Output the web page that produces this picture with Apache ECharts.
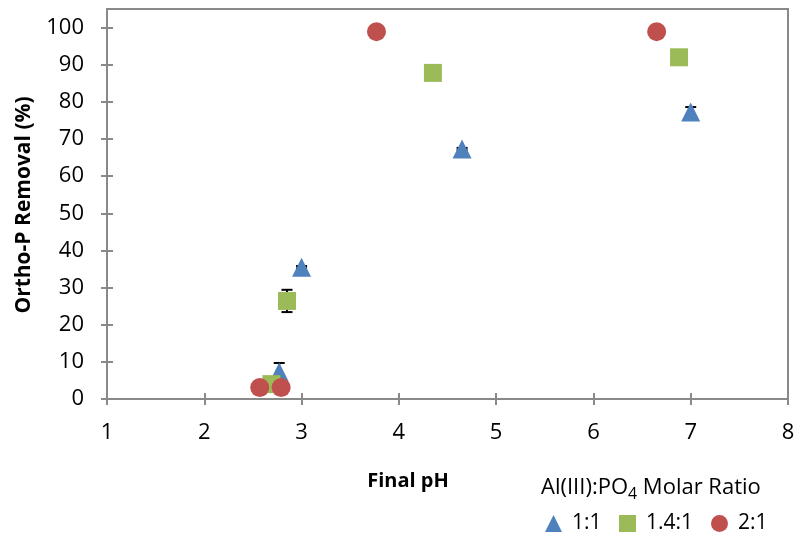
<!DOCTYPE html>
<html>
<head>
<meta charset="utf-8">
<script src="https://cdn.jsdelivr.net/npm/echarts@6/dist/echarts.min.js"></script>
<style>html,body{margin:0;padding:0;background:#fff}#c{width:798px;height:535px}</style>
</head>
<body>
<div id="c"></div>
<script>
// ---- data ----
var seriesNames = ['1:1', '1.4:1', '2:1'];
var ph_1_1 = [2.77, 3.0, 4.65, 7.0];
var rem_1_1 = [7.3, 35.5, 67.3, 77.3];
var err_1_1 = [2.4, 0.3, 0.3, 1.3];
var ph_14_1 = [2.69, 2.85, 4.35, 6.88];
var rem_14_1 = [4.0, 26.4, 87.8, 92.0];
var err_14_1 = [0, 3.0, 0, 0];
var ph_2_1 = [2.57, 2.79, 3.77, 6.65];
var rem_2_1 = [3.1, 3.1, 98.9, 98.9];
var err_2_1 = [0, 0, 0, 0];
var yTicks = [0, 10, 20, 30, 40, 50, 60, 70, 80, 90, 100];
var xTicks = [1, 2, 3, 4, 5, 6, 7, 8];

var FONT = '"Open Sans", "Noto Sans", sans-serif';
var AXIS_COLOR = '#898989';
var colors = ['#4F81BD', '#9BBB59', '#C0504D'];

function pts(xs, ys) { return xs.map(function (x, i) { return [x, ys[i]]; }); }
function errPts(xs, ys, es) {
  var out = [];
  xs.forEach(function (x, i) { if (es[i] > 0) out.push([x, ys[i], es[i]]); });
  return out;
}
var errData = errPts(ph_1_1, rem_1_1, err_1_1)
  .concat(errPts(ph_14_1, rem_14_1, err_14_1))
  .concat(errPts(ph_2_1, rem_2_1, err_2_1));

var chart = echarts.init(document.getElementById('c'), null, { renderer: 'canvas' });

function axisBase(isX) {
  return {
    type: 'value',
    min: isX ? 1 : 0,
    max: isX ? 8 : 105,
    interval: isX ? 1 : 10,
    splitLine: { show: false },
    axisLine: { show: true, lineStyle: { color: AXIS_COLOR, width: 2 } },
  };
}

var xMain = Object.assign(axisBase(true), {
  position: 'bottom',
  axisTick: { show: true, inside: false, length: 6, lineStyle: { color: AXIS_COLOR, width: 2 }, customValues: xTicks },
  axisLabel: { show: true, margin: 23, color: '#000', fontFamily: FONT, fontSize: 22, customValues: xTicks }
});
var xInner = Object.assign(axisBase(true), {
  position: 'bottom',
  axisLine: { show: false },
  axisTick: { show: true, inside: true, length: 6, lineStyle: { color: AXIS_COLOR, width: 2 }, customValues: xTicks },
  axisLabel: { show: false }
});
var yMain = Object.assign(axisBase(false), {
  position: 'left',
  axisTick: { show: true, inside: false, length: 6, lineStyle: { color: AXIS_COLOR, width: 2 }, customValues: yTicks },
  axisLabel: { show: true, margin: 23, color: '#000', fontFamily: FONT, fontSize: 22, customValues: yTicks }
});
var yInner = Object.assign(axisBase(false), {
  position: 'left',
  axisLine: { show: false },
  axisTick: { show: true, inside: true, length: 6, lineStyle: { color: AXIS_COLOR, width: 2 }, customValues: yTicks },
  axisLabel: { show: false }
});

function legendFor(name, left) {
  return {
    data: [name],
    left: left,
    top: 513,
    padding: 0,
    itemWidth: 17,
    itemHeight: 17,
    textStyle: { color: '#000', fontFamily: FONT, fontSize: 21, padding: [0, 0, 0, 5] }
  };
}

var option = {
  animation: false,
  backgroundColor: '#fff',
  grid: { left: 107, right: 10, top: 9, bottom: 136, show: true, borderColor: AXIS_COLOR, borderWidth: 2, backgroundColor: 'transparent' },
  xAxis: [xMain, xInner],
  yAxis: [yMain, yInner],
  legend: [legendFor('1:1', 545), legendFor('1.4:1', 619), legendFor('2:1', 711)],
  graphic: [
    { type: 'text', x: 408, y: 481, style: { text: 'Final pH', fontFamily: FONT, fontSize: 20, fontWeight: 'bold', fill: '#000', align: 'center', verticalAlign: 'middle' } },
    { type: 'text', x: 24, y: 205, rotation: Math.PI / 2, style: { text: 'Ortho-P Removal (%)', fontFamily: FONT, fontSize: 21, fontWeight: 'bold', fill: '#000', align: 'center', verticalAlign: 'middle' } },
    { type: 'text', left: 541, top: 477, style: {
      text: '{a|Al(III):PO}{b|4}{a| Molar Ratio}', fill: '#000',
      rich: {
        a: { fontFamily: FONT, fontSize: 22, fill: '#000', verticalAlign: 'bottom' },
        b: { fontFamily: FONT, fontSize: 16, fill: '#000', verticalAlign: 'bottom', padding: [0, 0, -3, 0] }
      }
    } }
  ],
  series: [
    {
      name: 'errorbars', type: 'custom', z: 1, xAxisIndex: 0, yAxisIndex: 0,
      data: errData,
      renderItem: function (params, api) {
        var x = api.value(0), y = api.value(1), e = api.value(2);
        var hi = api.coord([x, y + e]);
        var lo = api.coord([x, y - e]);
        var cap = 5.5;
        var st = { stroke: '#000', lineWidth: 2 };
        return { type: 'group', children: [
          { type: 'line', shape: { x1: hi[0], y1: hi[1], x2: lo[0], y2: lo[1] }, style: st },
          { type: 'line', shape: { x1: hi[0] - cap, y1: hi[1], x2: hi[0] + cap, y2: hi[1] }, style: st },
          { type: 'line', shape: { x1: lo[0] - cap, y1: lo[1], x2: lo[0] + cap, y2: lo[1] }, style: st }
        ] };
      }
    },
    { name: seriesNames[0], type: 'scatter', z: 2, symbol: 'triangle', symbolSize: 19, itemStyle: { color: colors[0], opacity: 1 }, data: pts(ph_1_1, rem_1_1) },
    { name: seriesNames[1], type: 'scatter', z: 3, symbol: 'rect', symbolSize: 18, itemStyle: { color: colors[1], opacity: 1 }, data: pts(ph_14_1, rem_14_1) },
    { name: seriesNames[2], type: 'scatter', z: 4, symbol: 'circle', symbolSize: 19, itemStyle: { color: colors[2], opacity: 1 }, data: pts(ph_2_1, rem_2_1) }
  ]
};
chart.setOption(option);
</script>
</body>
</html>
